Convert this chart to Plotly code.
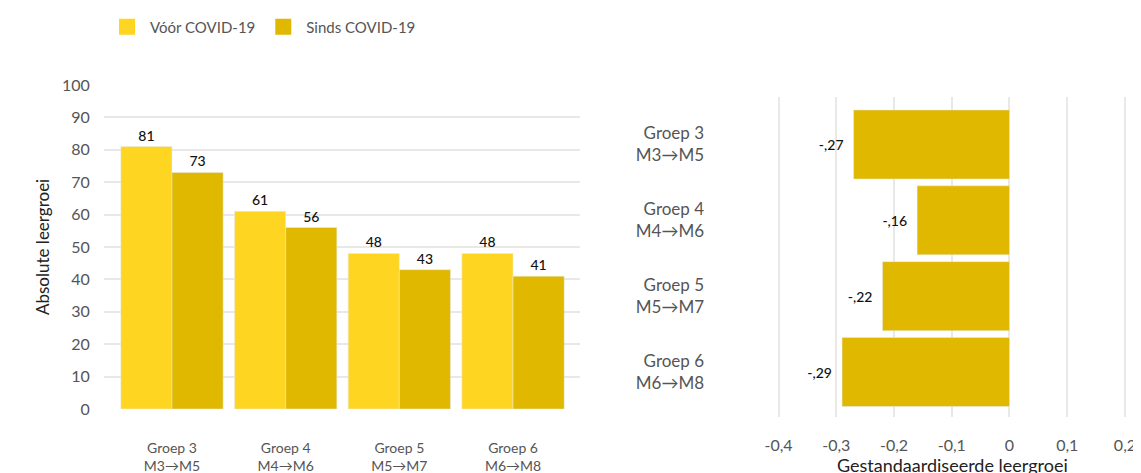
import plotly.graph_objects as go

OFF = 8  # page body margin
W, H = 1141 - OFF, 473 - OFF
FONT = "Lato"

groups = ["Groep 3<br>M3→M5", "Groep 4<br>M4→M6", "Groep 5<br>M5→M7", "Groep 6<br>M6→M8"]
voor = [81, 61, 48, 48]
sinds = [73, 56, 43, 41]
std_growth = [-0.27, -0.16, -0.22, -0.29]
std_labels = ["-,27", "-,16", "-,22", "-,29"]
y_ticks = [0, 10, 20, 30, 40, 50, 60, 70, 80, 90, 100]
x2_ticks = [-0.4, -0.3, -0.2, -0.1, 0, 0.1, 0.2]
x2_ticklabels = ["-0,4", "-0,3", "-0,2", "-0,1", "0", "0,1", "0,2"]

C_VOOR = "#FED520"
C_SINDS = "#E0B800"
GRID = "#e8e8e8"
TICK = "#555555"
LBL = dict(family=FONT, size=14, color="#111", weight=500)

def px(x):
    return min(1.0, max(0.0, (x - OFF) / W))

def py(y):
    return min(1.0, max(0.0, 1 - (y - OFF) / H))

fig = go.Figure()
fig.add_trace(go.Bar(x=groups, y=voor, name="Vóór COVID-19", marker_color=C_VOOR,
                     text=[str(v) for v in voor], textposition="outside", cliponaxis=False,
                     textfont=LBL, xaxis="x", yaxis="y", showlegend=False))
fig.add_trace(go.Bar(x=groups, y=sinds, name="Sinds COVID-19", marker_color=C_SINDS,
                     text=[str(v) for v in sinds], textposition="outside", cliponaxis=False,
                     textfont=LBL, xaxis="x", yaxis="y", showlegend=False))
fig.add_trace(go.Bar(y=groups, x=std_growth, orientation="h", marker_color=C_SINDS,
                     width=0.91, text=std_labels, texttemplate="%{text}\u00a0\u00a0",
                     textposition="outside", cliponaxis=False,
                     textfont=LBL, xaxis="x2", yaxis="y2", showlegend=False))
# legend entries
fig.add_trace(go.Scatter(x=[None], y=[None], mode="markers", name="Vóór COVID-19",
                         marker=dict(symbol="square", size=18, color=C_VOOR), xaxis="x", yaxis="y"))
fig.add_trace(go.Scatter(x=[None], y=[None], mode="markers", name="Sinds COVID-19",
                         marker=dict(symbol="square", size=18, color=C_SINDS), xaxis="x", yaxis="y"))

fig.update_layout(
    width=W, height=H,
    margin=dict(l=0, r=0, t=0, b=0),
    paper_bgcolor="white", plot_bgcolor="white",
    barmode="group", bargap=0.1, bargroupgap=0,
    font=dict(family=FONT, color=TICK),
    legend=dict(orientation="h", x=px(104), y=py(27), xanchor="left", yanchor="middle",
                font=dict(family=FONT, size=15, color=TICK), itemsizing="trace",
                itemwidth=36, tracegroupgap=0),
    xaxis=dict(domain=[px(104), px(580)], range=[-0.598, 3.589], showgrid=False,
               ticks="outside", ticklen=26, tickcolor="rgba(0,0,0,0)",
               tickfont=dict(family=FONT, size=14, color=TICK), automargin=False,
               zeroline=False, showline=False, fixedrange=True),
    yaxis=dict(domain=[py(409), py(85)], range=[0, 100], tickvals=y_ticks,
               showgrid=True, gridcolor=GRID, gridwidth=2, zeroline=False,
               ticks="outside", ticklen=10, tickcolor="rgba(0,0,0,0)",
               tickfont=dict(family=FONT, size=16, color=TICK), automargin=False),
    xaxis2=dict(domain=[px(768.5), 1.0], range=[-0.4174, 0.2278], tickvals=x2_ticks,
                ticktext=x2_ticklabels, showgrid=True, gridcolor=GRID, gridwidth=2,
                zeroline=False, ticks="outside", ticklen=14, tickcolor="rgba(0,0,0,0)",
                tickfont=dict(family=FONT, size=16, color=TICK), automargin=False,
                anchor="y2"),
    yaxis2=dict(domain=[py(417), py(97)], range=[3.593, -0.626], showgrid=False,
                ticks="outside", ticklen=60, tickcolor="rgba(0,0,0,0)",
                tickfont=dict(family=FONT, size=17, color=TICK), automargin=False,
                anchor="x2", zeroline=False),
    annotations=[
        dict(text="Absolute leergroei", x=px(42), y=py(247), xref="paper", yref="paper",
             textangle=-90, showarrow=False, font=dict(family=FONT, size=17, color="#222"),
             xanchor="center", yanchor="middle"),
        dict(text="Gestandaardiseerde leergroei", x=px(952), y=py(465), xref="paper", yref="paper",
             showarrow=False, font=dict(family=FONT, size=18, color="#222"),
             xanchor="center", yanchor="middle"),
    ],
)

fig.write_html("out.html")
